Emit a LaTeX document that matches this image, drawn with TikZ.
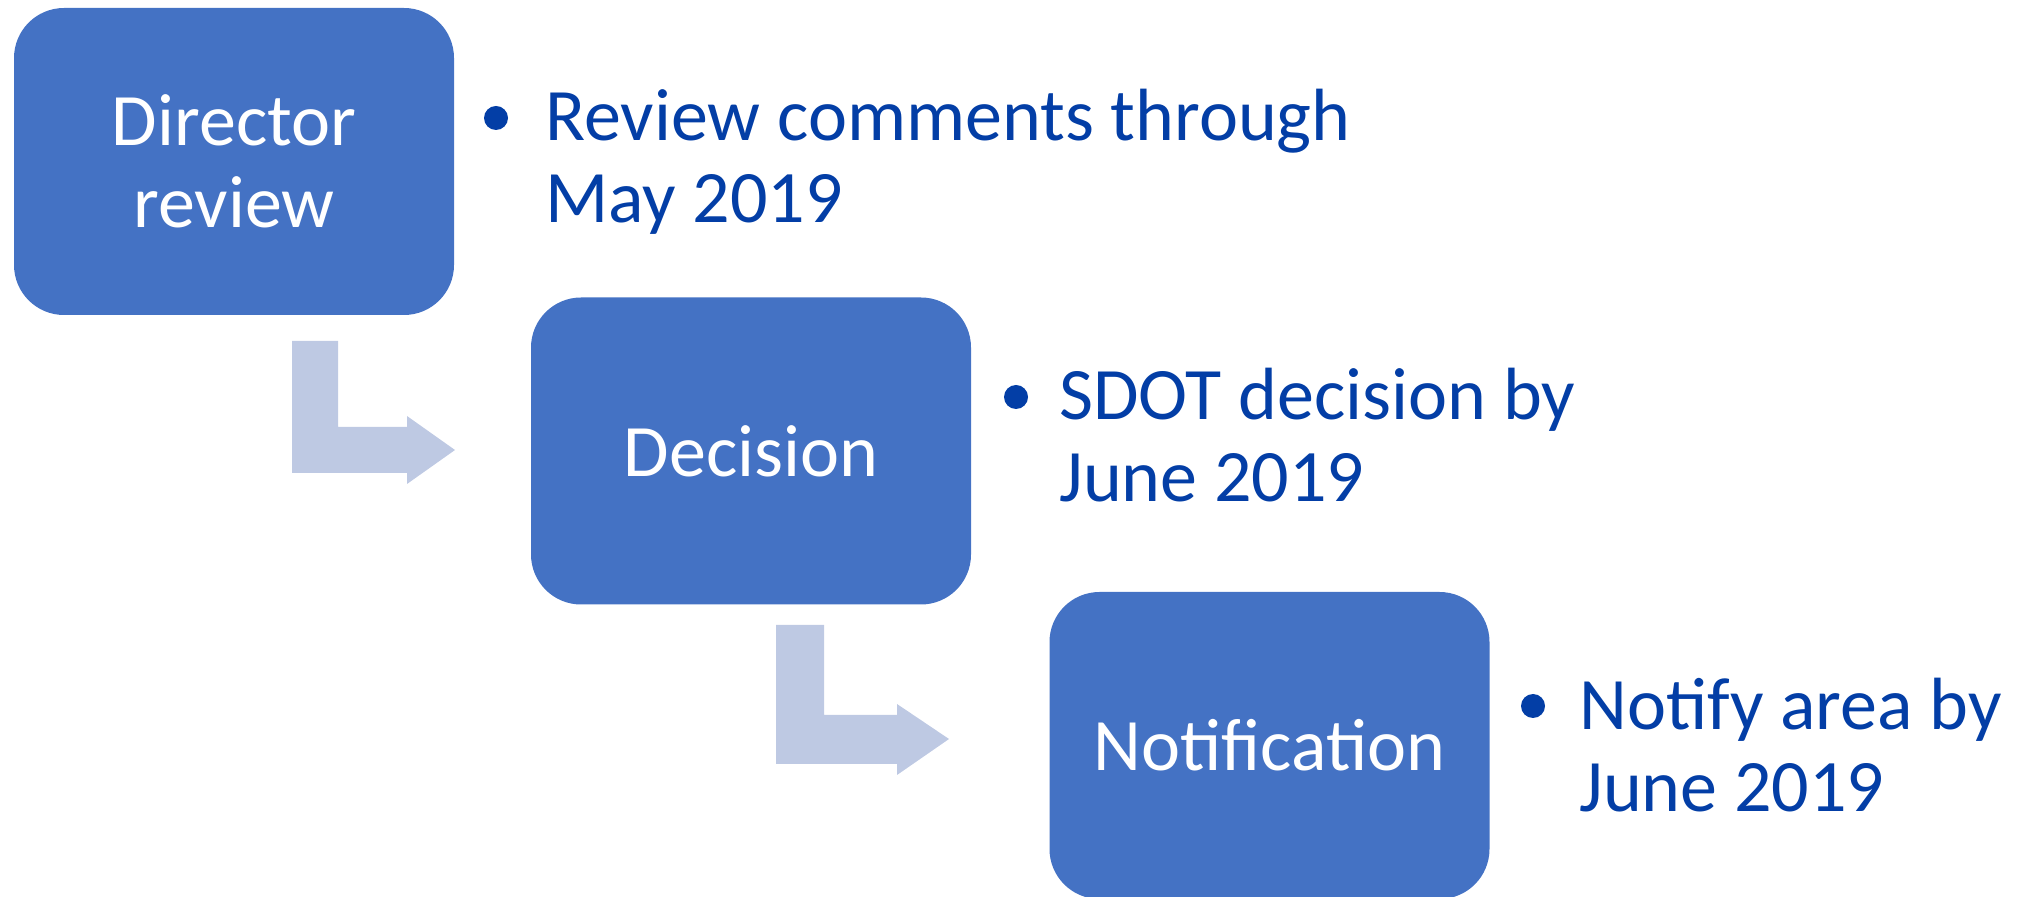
\documentclass[tikz,border=0pt]{standalone}
\usepackage{fontspec}
\setmainfont{Carlito}
\definecolor{boxblue}{RGB}{68,114,196}
\definecolor{arrowlav}{RGB}{190,201,227}
\definecolor{txtblue}{RGB}{3,62,166}
\begin{document}
\begin{tikzpicture}[x=0.5pt,y=-0.5pt,
  stepbox/.style={draw=none,fill=boxblue,rounded corners=25pt,minimum width=220pt,minimum height=153.5pt,inner sep=0pt,text=white,align=center,font=\fontsize{37}{41}\selectfont},
  bullettext/.style={anchor=base west,inner sep=0pt,text=txtblue,align=left,font=\fontsize{37}{41}\selectfont},
  bulletdot/.style={circle,fill=txtblue,inner sep=0pt,minimum size=12pt},
  bentarrow/.style={fill=arrowlav,draw=none}]
\useasboundingbox (0,0) rectangle (2020,897);
% boxes
\node[stepbox] (dir) at (234,161.5) {Director\\review};
\node[stepbox] (dec) at (751,451) {Decision};
\node[stepbox] (noti) at (1269.5,745.5) {Notification};
% bullets (base anchor = baseline of last line)
\node[bulletdot] (b1) at (496,118) {};
\node[bullettext] (t1) at (545,223) {Review comments through\\May 2019};
\node[bulletdot] (b2) at (1016,397) {};
\node[bullettext] (t2) at (1059,502) {SDOT decision by\\June 2019};
\node[bulletdot] (b3) at (1533,706) {};
\node[bullettext] (t3) at (1579,812) {Notify area by\\June 2019};
% bent arrows
\fill[bentarrow] (292,341) -- (338,341) -- (338,427) -- (407,427) -- (407,416) -- (455,450) -- (407,484) -- (407,473) -- (292,473) -- cycle;
\fill[bentarrow] (776,625) -- (824,625) -- (824,715) -- (897,715) -- (897,704) -- (949,739) -- (897,775) -- (897,764) -- (776,764) -- cycle;
\end{tikzpicture}
\end{document}
